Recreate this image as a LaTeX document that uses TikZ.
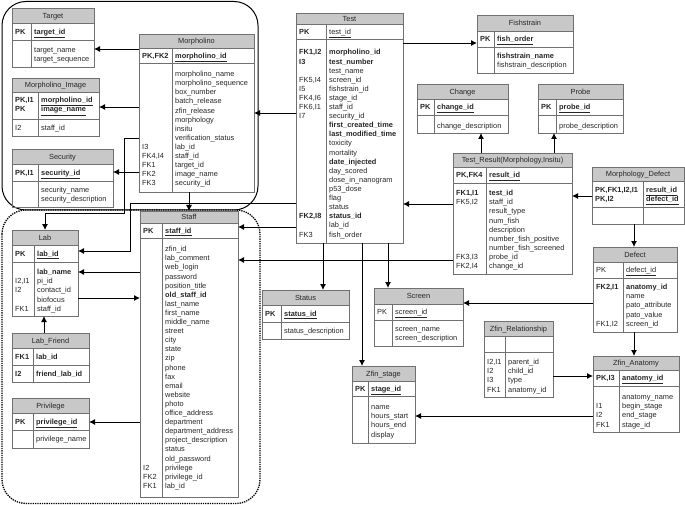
\documentclass[tikz,border=0pt]{standalone}
\usepackage{fontspec}
\setmainfont{Liberation Sans}
\usetikzlibrary{arrows.meta}
\definecolor{titlegray}{HTML}{C8C8C8}
\definecolor{tblgray}{HTML}{707070}
\definecolor{txtc}{HTML}{262626}
\tikzset{
  tbl/.style={draw=tblgray, line width=0.8pt, inner sep=0pt, outer sep=0pt},
  tline/.style={draw=tblgray, line width=0.8pt},
  txt/.style={font=\fontsize{7.4}{9.1}\selectfont, inner sep=0pt, text=txtc},
  conn/.style={draw=black, line width=0.9pt, -{Latex[length=6pt,width=6pt]}},
}
% entity box: name, x1, x2, divider x, title top, title bottom, pk bottom, bottom, title
\newcommand\ent[9]{%
  \fill[titlegray] (#2,#5) rectangle (#3,#6);
  \node[tbl, anchor=north west, minimum width={#3-#2}, minimum height={#8-#5}] (#1) at (#2,#5) {};
  \draw[tline] (#2,#6) -- (#3,#6) (#2,#7) -- (#3,#7) (#4,#6) -- (#4,#8);
  \node[txt, anchor=base] (#1-title) at ({(#2+#3)/2},{(#5+#6)/2+2.7}) {#9};
}
% column of rows: name, x, centre y of first row, list
\newcommand\col[4]{%
  \foreach \t [count=\i from 0] in {#4} {\node[txt, anchor=base west] (#1-\i) at (#2,{#3+2.7+\i*9.1}) {\t};}%
}
\newcommand\bu[1]{\underline{\textbf{#1}}}
\begin{document}
\begin{tikzpicture}[x=1pt,y=-1pt]
\useasboundingbox (0,0) rectangle (685,505);

% grouping frames
\draw[line width=1pt, rounded corners=24pt] (2,1.5) rectangle (258,210);
\draw[line width=1.3pt, densely dotted, rounded corners=24pt] (2,210) rectangle (260,503.5);

% ---------------- entities ----------------
\ent{target}{12}{94}{31}{8}{23}{40}{67}{Target}
\col{targetk}{15}{31.5}{\textbf{PK}}
\col{targetp}{34}{31.5}{\bu{target\_id}}
\col{targetf}{34}{50}{target\_name,target\_sequence}

\ent{mimg}{12}{99}{38}{78}{92}{119}{136}{Morpholino\_Image}
\col{mimgk}{15}{100}{{\textbf{PK,I1}},\textbf{PK}}
\col{mimgp}{41}{100}{\bu{morpholino\_id},\bu{image\_name}}
\col{mimgk2}{15}{127.5}{I2}
\col{mimgf}{41}{127.5}{staff\_id}

\ent{secu}{12}{113}{38}{149}{164}{181}{207}{Security}
\col{secuk}{15}{172.5}{{\textbf{PK,I1}}}
\col{secup}{41}{172.5}{\bu{security\_id}}
\col{secuf}{41}{190}{security\_name,security\_description}

\ent{morph}{139}{254}{172}{34}{48}{63}{192}{Morpholino}
\col{morphk}{142}{55.5}{{\textbf{PK,FK2}}}
\col{morphp}{175}{55.5}{\bu{morpholino\_id}}
\col{morphf}{175}{74}{morpholino\_name,morpholino\_sequence,box\_number,batch\_release,zfin\_release,morphology,insitu,verification\_status,lab\_id,staff\_id,target\_id,image\_name,security\_id}
\col{morphk2}{142}{146.8}{I3,{FK4,I4},FK1,FK2,FK3}

\ent{test}{296}{403}{326}{13}{24}{39}{243}{Test}
\col{testk}{299}{31.5}{\textbf{PK}}
\col{testp}{329}{31.5}{\underline{test\_id}}
\col{testf}{329}{52.3}{\textbf{morpholino\_id},\textbf{test\_number},test\_name,screen\_id,fishstrain\_id,stage\_id,staff\_id,security\_id,\textbf{first\_created\_time},\textbf{last\_modified\_time},toxicity,mortality,\textbf{date\_injected},day\_scored,dose\_in\_nanogram,p53\_dose,flag,status,\textbf{status\_id},lab\_id,fish\_order}
\col{testk2}{299}{52.3}{{\textbf{FK1,I2}},\textbf{I3},{},{FK5,I4},I5,{FK4,I6},{FK6,I1},I7}
\col{testk3}{299}{216.1}{{\textbf{FK2,I8}},{},FK3}

\ent{fish}{477}{573}{494}{15}{31}{47}{73}{Fishstrain}
\col{fishk}{480}{39}{\textbf{PK}}
\col{fishp}{497}{39}{\bu{fish\_order}}
\col{fishf}{497}{56}{\textbf{fishstrain\_name},fishstrain\_description}

\ent{change}{417}{508}{434}{84}{99}{115}{133}{Change}
\col{changek}{420}{107}{\textbf{PK}}
\col{changep}{437}{107}{\bu{change\_id}}
\col{changef}{437}{125.5}{change\_description}

\ent{probe}{538}{623}{556}{84}{99}{115}{133}{Probe}
\col{probek}{541}{107}{\textbf{PK}}
\col{probep}{559}{107}{\bu{probe\_id}}
\col{probef}{559}{125.5}{probe\_description}

\ent{tres}{453}{572}{486}{153}{167}{183}{274}{Test\_Result(Morphology,Insitu)}
\col{tresk}{456}{175}{{\textbf{PK,FK4}}}
\col{tresp}{489}{175}{\bu{result\_id}}
\col{tresf}{489}{193}{\textbf{test\_id},staff\_id,result\_type,num\_fish,description,number\_fish\_positive,number\_fish\_screened,probe\_id,change\_id}
\col{tresk2}{456}{193}{{\textbf{FK1,I1}},{FK5,I2}}
\col{tresk3}{456}{256.7}{{FK3,I3},{FK2,I4}}

\ent{mdef}{592}{684}{643}{167}{181}{207}{224}{Morphology\_Defect}
\col{mdefk}{595}{190}{{\textbf{PK,FK1,I2,I1}},{\textbf{PK,I2}}}
\col{mdefp}{646}{190}{\bu{result\_id},\bu{defect\_id}}

\ent{defect}{593}{677}{623}{247}{262}{278}{332}{Defect}
\col{defectk}{596}{270}{PK}
\col{defectp}{626}{270}{\underline{defect\_id}}
\col{defectf}{626}{287}{\textbf{anatomy\_id},name,pato\_attribute,pato\_value,screen\_id}
\col{defectk2}{596}{287}{{\textbf{FK2,I1}},{},{},{},{FK1,I2}}

\ent{zrel}{484}{553}{505}{321}{336}{352}{397}{Zfin\_Relationship}
\col{zrelk}{487}{362}{{I2,I1},I2,I3,FK1}
\col{zrelf}{508}{362}{parent\_id,child\_id,type,anatomy\_id}

\ent{zana}{593}{679}{619}{356}{370}{386}{432}{Zfin\_Anatomy}
\col{zanak}{596}{378}{{\textbf{PK,I3}}}
\col{zanap}{622}{378}{\bu{anatomy\_id}}
\col{zanaf}{622}{397}{anatomy\_name,begin\_stage,end\_stage,stage\_id}
\col{zanak2}{596}{406.1}{I1,I2,FK1}

\ent{status}{262}{349}{281}{290}{305}{322}{339}{Status}
\col{statusk}{265}{313.5}{\textbf{PK}}
\col{statusp}{284}{313.5}{\bu{status\_id}}
\col{statusf}{284}{331}{status\_description}

\ent{screen}{374}{463}{392}{288}{304}{320}{346}{Screen}
\col{screenk}{377}{312}{PK}
\col{screenp}{395}{312}{\underline{screen\_id}}
\col{screenf}{395}{329}{screen\_name,screen\_description}

\ent{zstage}{352}{415}{368}{366}{381}{396}{443}{Zfin\_stage}
\col{zstagek}{355}{388.5}{\textbf{PK}}
\col{zstagep}{371}{388.5}{\bu{stage\_id}}
\col{zstagef}{371}{407}{name,hours\_start,hours\_end,display}

\ent{lab}{12}{78}{34}{230}{245}{262}{316}{Lab}
\col{labk}{15}{253.5}{\textbf{PK}}
\col{labp}{37}{253.5}{\bu{lab\_id}}
\col{labf}{37}{272}{\textbf{lab\_name},pi\_id,contact\_id,biofocus,staff\_id}
\col{labk2}{15}{281.1}{{I2,I1},I2,{},FK1}

\ent{labfr}{12}{89}{33}{333}{348}{365}{382}{Lab\_Friend}
\col{labfrk}{15}{356.5}{\textbf{FK1}}
\col{labfrp}{36}{356.5}{\textbf{lab\_id}}
\col{labfrk2}{15}{373.5}{\textbf{I2}}
\col{labfrf}{36}{373.5}{\textbf{friend\_lab\_id}}

\ent{priv}{12}{89}{33}{398}{413}{430}{448}{Privilege}
\col{privk}{15}{421.5}{\textbf{PK}}
\col{privp}{36}{421.5}{\bu{privilege\_id}}
\col{privf}{36}{439}{privilege\_name}

\ent{staff}{140}{238}{162}{211}{223}{238}{497}{Staff}
\col{staffk}{143}{230.5}{\textbf{PK}}
\col{staffp}{165}{230.5}{\bu{staff\_id}}
\col{stafff}{165}{249}{zfin\_id,lab\_comment,web\_login,password,position\_title,\textbf{old\_staff\_id},last\_name,first\_name,middle\_name,street,city,state,zip,phone,fax,email,website,photo,office\_address,department,department\_address,project\_description,status,old\_password,privilege,privilege\_id,lab\_id}
\col{staffk2}{143}{467.4}{I2,FK2,FK1}

% ---------------- connectors ----------------
\draw[conn] (morph.west |- 0,49) -- (target.east |- 0,49);
\draw[conn] (morph.west |- 0,107) -- (mimg.east |- 0,107);
\draw[conn] (morph.west |- 0,172) -- (secu.east |- 0,172);
\draw[conn] (morph.west |- 0,138) -- (124,138) -- (124,213) -- (lab.north |- 0,213) -- (lab.north);
\draw[conn] (morph.south -| 189,0) -- (staff.north -| 189,0);

\draw[conn] (test.west |- 0,113) -- (morph.east |- 0,113);
\draw[conn] (test.west |- 0,203) -- (130,203) -- (130,251) -- (lab.east |- 0,251);
\draw[conn] (test.west |- 0,227) -- (staff.east |- 0,227);
\draw[conn] (test.east |- 0,43) -- (fish.west |- 0,43);
\draw[conn] (test.south -| 323,0) -- (status.north -| 323,0);
\draw[conn] (test.south -| 362,0) -- (zstage.north -| 362,0);
\draw[conn] (test.south -| 388,0) -- (screen.north -| 388,0);

\draw[conn] (tres.west |- 0,204) -- (test.east |- 0,204);
\draw[conn] (tres.west |- 0,260) -- (staff.east |- 0,260);
\draw[conn] (tres.north -| 481,0) -- (change.south -| 481,0);
\draw[conn] (tres.north -| 554,0) -- (probe.south -| 554,0);

\draw[conn] (mdef.west |- 0,196) -- (tres.east |- 0,196);
\draw[conn] (mdef.south -| 634,0) -- (defect.north -| 634,0);
\draw[conn] (defect.west |- 0,303) -- (screen.east |- 0,303);
\draw[conn] (defect.south -| 634,0) -- (zana.north -| 634,0);
\draw[conn] (zrel.east |- 0,376) -- (zana.west |- 0,376);
\draw[conn] (zana.west |- 0,416) -- (zstage.east |- 0,416);

\draw[conn] (staff.west |- 0,272) -- (lab.east |- 0,272);
\draw[conn] (lab.east |- 0,298) -- (staff.west |- 0,298);
\draw[conn] (labfr.north -| 44,0) -- (lab.south -| 44,0);
\draw[conn] (staff.west |- 0,422) -- (priv.east |- 0,422);
\end{tikzpicture}
\end{document}
